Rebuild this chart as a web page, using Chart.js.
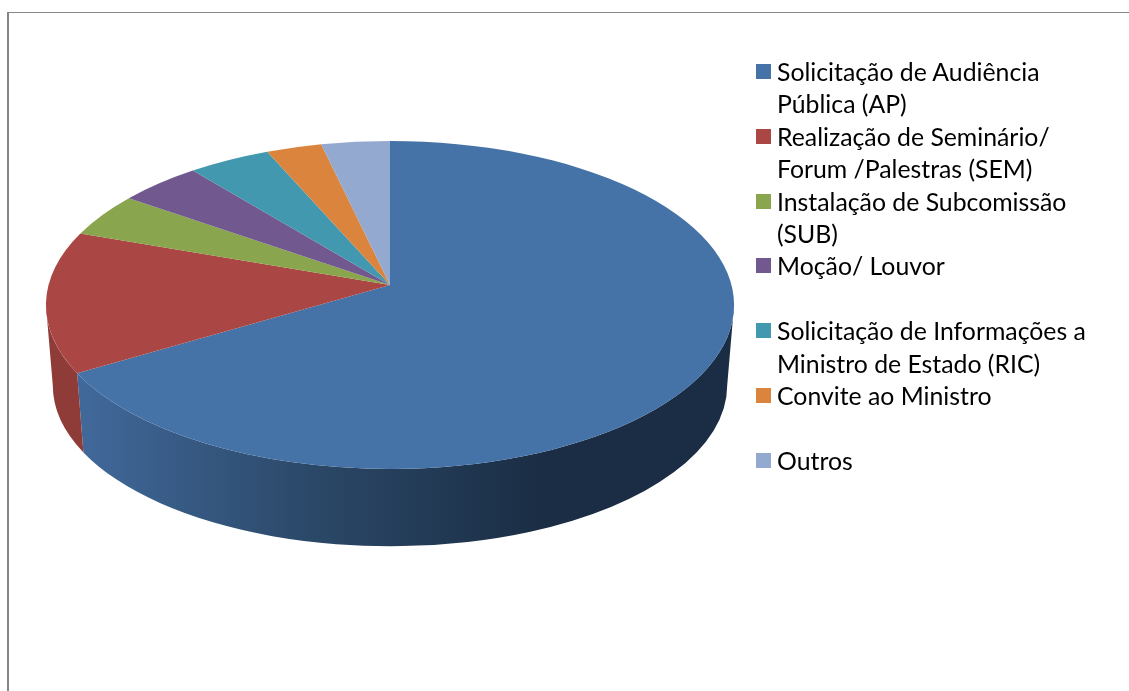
<!DOCTYPE html>
<html>
<head>
<meta charset="utf-8">
<script src="https://cdn.jsdelivr.net/npm/chart.js@4"></script>
<style>
  html, body { margin: 0; padding: 0; background: #fff; overflow: hidden; }
  #wrap { position: relative; width: 1129px; height: 691px; }
  #frame { position: absolute; left: 7px; top: 12px; right: 0; bottom: 0; border-top: 1px solid #868686; border-left: 2px solid #868686; }
  #legend { position: absolute; left: 756px; top: 56px; font-family: Lato, sans-serif; font-size: 24.8px; line-height: 32.4px; color: #000; }
  .item { position: relative; padding-left: 21px; white-space: pre; }
  .item .box { position: absolute; left: 0; top: 8px; width: 15px; height: 15px; }
  .item .line { height: 32.4px; }
</style>
</head>
<body>
<div id="wrap">
  <canvas id="chart" width="1129" height="691"></canvas>
  <div id="frame"></div>
  <div id="legend"></div>
</div>
<script>
const categories = [
  ['Solicitação de Audiência', 'Pública (AP)'],
  ['Realização de Seminário/', 'Forum /Palestras (SEM)'],
  ['Instalação de Subcomissão', '(SUB)'],
  ['Moção/ Louvor', ''],
  ['Solicitação de Informações a', 'Ministro de Estado (RIC)'],
  ['Convite ao Ministro', ''],
  ['Outros']
];
const values = [68.1, 14.0, 4.1, 4.0, 3.9, 2.6, 3.2];
const colors = ['#4572A7', '#AA4643', '#89A54E', '#71588F', '#4198AF', '#DB843D', '#93A9CF'];

// legend
const legendEl = document.getElementById('legend');
categories.forEach((lines, i) => {
  const item = document.createElement('div');
  item.className = 'item';
  const box = document.createElement('span');
  box.className = 'box';
  box.style.background = colors[i];
  item.appendChild(box);
  lines.forEach((text) => {
    const line = document.createElement('div');
    line.className = 'line';
    line.textContent = text;
    item.appendChild(line);
  });
  legendEl.appendChild(item);
});

// tilted 3D look: the library's arcs give the angles, this plugin lays them on an ellipse
const tilt3d = {
  id: 'tilt3d',
  beforeDatasetDraw(chart) {
    const ctx = chart.ctx;
    const arcs = chart.getDatasetMeta(0).data;
    const first = arcs[0];
    const cx = first.x;
    const cy = first.y;
    const rx = first.outerRadius * 2.098;
    const ry = first.outerRadius;
    const lowRx = rx * 0.98;
    const lowRy = ry * 0.98;
    const lowCy = cy + 80.5;
    const apexY = cy - 20;

    // side wall, only the part facing the viewer (angles 0 to PI)
    arcs.forEach((arc, i) => {
      const from = Math.max(arc.startAngle, 0);
      const to = Math.min(arc.endAngle, Math.PI);
      if (to <= from) return;
      ctx.beginPath();
      ctx.ellipse(cx, cy, rx, ry, 0, from, to);
      ctx.ellipse(cx, lowCy, lowRx, lowRy, 0, to, from, true);
      ctx.closePath();
      if (i === 0) {
        const grad = ctx.createLinearGradient(78, 0, 545, 0);
        grad.addColorStop(0, '#41699b');
        grad.addColorStop(0.5, '#2b4868');
        grad.addColorStop(1, '#1a2d44');
        ctx.fillStyle = grad;
      } else {
        ctx.fillStyle = '#8f3c39';
      }
      ctx.fill();
    });

    // top face
    arcs.forEach((arc, i) => {
      ctx.beginPath();
      ctx.moveTo(cx, apexY);
      ctx.ellipse(cx, cy, rx, ry, 0, arc.startAngle, arc.endAngle);
      ctx.closePath();
      ctx.fillStyle = colors[i];
      ctx.fill();
    });
    return false;
  }
};

new Chart(document.getElementById('chart'), {
  type: 'pie',
  data: {
    labels: categories.map(l => l.join(' ').trim()),
    datasets: [{ data: values, backgroundColor: colors, borderWidth: 0 }]
  },
  options: {
    responsive: false,
    animation: false,
    layout: { padding: { left: 46, right: 395, top: 141, bottom: 222 } },
    plugins: {
      legend: { display: false },
      tooltip: { enabled: false }
    }
  },
  plugins: [tilt3d]
});
</script>
</body>
</html>
